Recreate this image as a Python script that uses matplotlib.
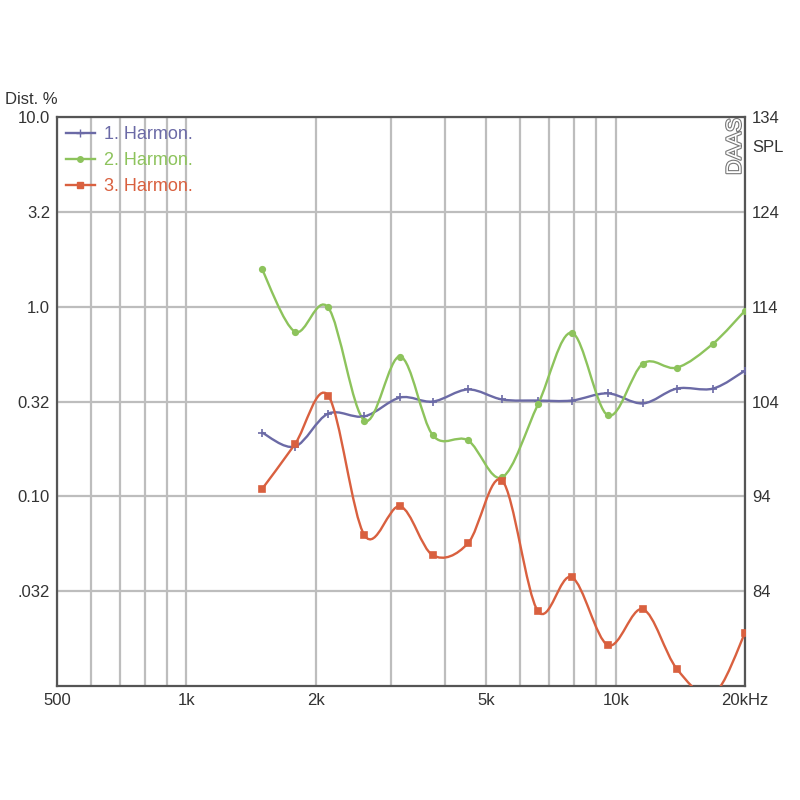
import numpy as np
import matplotlib
matplotlib.use("Agg")
import matplotlib.pyplot as plt
from matplotlib.path import Path
from matplotlib.patches import PathPatch
from matplotlib.lines import Line2D
import matplotlib.patheffects as pe

plt.rcParams['font.family'] = ['Liberation Sans', 'DejaVu Sans']

# frequencies of the measured points (Hz)
freq = [1500, 1790, 2140, 2600, 3150, 3750, 4530, 5440, 6590, 7900, 9590, 11570, 13880, 16850, 20000]

# distortion, %
harm1 = [0.217, 0.183, 0.273, 0.264, 0.332, 0.316, 0.366, 0.324, 0.320, 0.320, 0.349, 0.309, 0.370, 0.370, 0.46]
harm2 = [1.58, 0.738, 0.99, 0.251, 0.546, 0.21, 0.197, 0.126, 0.305, 0.729, 0.267, 0.501, 0.477, 0.638, 0.953]
harm3 = [0.109, 0.188, 0.340, 0.0623, 0.0886, 0.0489, 0.0566, 0.121, 0.0248, 0.0375, 0.0164, 0.0254, 0.0123, 0.0090, 0.019]

labels = ["1. Harmon.", "2. Harmon.", "3. Harmon."]
colors = ["#6b6aa6", "#8dc35c", "#d9603f"]
markers = ["+", "o", "s"]

xticks = [500, 1000, 2000, 5000, 10000, 20000]
xticklabels = ["500", "1k", "2k", "5k", "10k", "20kHz"]
xminor = [600, 700, 800, 900, 3000, 4000, 6000, 7000, 8000, 9000]
yticks = [10 ** -1.5, 0.1, 10 ** -0.5, 1.0, 10 ** 0.5, 10.0]
yticklabels = [".032", "0.10", "0.32", "1.0", "3.2", "10.0"]
spl_ticks = [84, 94, 104, 114, 124, 134]


def smooth_path(x, y):
    # catmull-rom through the points, drawn as bezier curves in log space
    lx = np.log10(x)
    ly = np.log10(y)
    p = np.column_stack([lx, ly])
    p = np.vstack([p[0], p, p[-1]])
    verts = [p[1]]
    codes = [Path.MOVETO]
    for i in range(1, len(p) - 2):
        c1 = p[i] + (p[i + 1] - p[i - 1]) / 6.0
        c2 = p[i + 1] - (p[i + 2] - p[i]) / 6.0
        verts += [c1, c2, p[i + 1]]
        codes += [Path.CURVE4] * 3
    verts = 10 ** np.array(verts)
    return Path(verts, codes)


fig = plt.figure(figsize=(8, 8), dpi=100)
ax = fig.add_axes([0.07125, 0.1425, 0.86, 0.71125])
ax.set_xscale("log")
ax.set_yscale("log")
ax.set_xlim(500, 20000)
ax.set_ylim(0.01, 10)

ax.set_xticks(xticks)
ax.set_xticklabels(xticklabels)
ax.set_xticks(xminor, minor=True)
ax.set_xticklabels([], minor=True)
ax.set_yticks(yticks)
ax.set_yticklabels(yticklabels)
ax.yaxis.set_minor_locator(matplotlib.ticker.NullLocator())
ax.tick_params(which="both", length=0, labelsize=12, colors="#333333", pad=5)
ax.grid(True, which="both", color="#bdbdbd", linewidth=1.6)
ax.set_axisbelow(True)
for s in ax.spines.values():
    s.set_color("#555555")
    s.set_linewidth(1.6)

series = [harm1, harm2, harm3]
handles = []
for vals, c, m, lab in zip(series, colors, markers, labels):
    ax.add_patch(PathPatch(smooth_path(freq, vals), facecolor="none", edgecolor=c, linewidth=1.7, zorder=3))
    ms = 6 if m == "+" else 4
    ax.plot(freq, vals, linestyle="none", marker=m, color=c, markersize=ms, markeredgewidth=1.2, zorder=4)
    handles.append(Line2D([], [], color=c, marker=m, markersize=ms, linewidth=1.7))

leg = ax.legend(handles, labels, loc="upper left", frameon=False, fontsize=13,
                handlelength=1.6, handletextpad=0.5, labelspacing=0.5,
                borderaxespad=0.1)
for t, c in zip(leg.get_texts(), colors):
    t.set_color(c)

ax2 = ax.twinx()
ax2.set_ylim(74, 134)
ax2.set_yticks(spl_ticks)
ax2.tick_params(length=0, labelsize=12, colors="#333333", pad=5)
for s in ax2.spines.values():
    s.set_visible(False)

fig.text(0.006, 0.866, "Dist. %", fontsize=12, color="#333333", ha="left", va="bottom")
fig.text(0.94, 0.815, "SPL", fontsize=12, color="#333333", ha="left", va="center")
fig.text(0.919, 0.817, "DAAS", fontsize=15, rotation=90, color="white", ha="center", va="center",
         path_effects=[pe.withStroke(linewidth=1.6, foreground="#777777")])

fig.savefig("out.png", dpi=100, facecolor="white")
